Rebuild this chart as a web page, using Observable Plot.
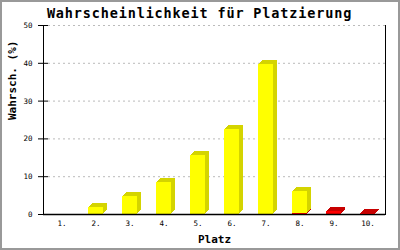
<!DOCTYPE html>
<html>
<head>
<meta charset="utf-8">
<script src="https://cdn.jsdelivr.net/npm/d3@7"></script>
<script src="https://cdn.jsdelivr.net/npm/@observablehq/plot@0.6"></script>
<style>
  html, body { margin: 0; padding: 0; background: #fff; }
  svg { display: block; outline: 2px solid #999; outline-offset: -2px; }
  g[aria-description="title"] text { letter-spacing: 0.85px; }
</style>
</head>
<body>
<div id="chart"></div>
<script>
const title = "Wahrscheinlichkeit für Platzierung";
const xLabel = "Platz";
const yLabel = "Wahrsch. (%)";
const cats = ["1.", "2.", "3.", "4.", "5.", "6.", "7.", "8.", "9.", "10."];
const yellowVals = [0, 1.9, 4.8, 8.5, 15.6, 22.5, 39.7, 5.9, 0, 0];
const redVals = [0, 0, 0, 0, 0, 0, 0, 0.25, 0.9, 0.3];
const yTicks = [0, 10, 20, 30, 40, 50];

const redRows = cats.map((c, i) => ({c, y1: 0, y2: redVals[i]})).filter(d => d.y2 > d.y1);
const yellowRows = cats.map((c, i) => ({c, y1: redVals[i], y2: redVals[i] + yellowVals[i]})).filter(d => d.y2 > d.y1);

const font = "DejaVu Sans Mono, Liberation Mono, monospace";
const depth = [4, 3, 2, 1];
const marks = [];

marks.push(Plot.ruleY(yTicks.filter(t => t > 0), {stroke: "#bbb", strokeDasharray: "2,3", insetLeft: 5}));

for (const k of depth) {
  marks.push(Plot.barY(redRows, {x: "c", y1: "y1", y2: "y2", fill: "#c80000", dx: k, dy: -k, shapeRendering: "crispEdges"}));
  marks.push(Plot.barY(yellowRows, {x: "c", y1: "y1", y2: "y2", fill: "#d4d400", dx: k, dy: -k, shapeRendering: "crispEdges"}));
}
marks.push(Plot.barY(redRows, {x: "c", y1: "y1", y2: "y2", fill: "#ff0000", shapeRendering: "crispEdges"}));
marks.push(Plot.barY(yellowRows, {x: "c", y1: "y1", y2: "y2", fill: "#ffff00", shapeRendering: "crispEdges"}));

marks.push(Plot.frame({anchor: "left", stroke: "#000"}));
marks.push(Plot.frame({anchor: "right", stroke: "#000"}));
marks.push(Plot.ruleY([0], {stroke: "#000", strokeWidth: 1.5}));
marks.push(Plot.ruleY(yTicks, {stroke: "#000", insetLeft: -5, insetRight: 337}));

marks.push(Plot.axisY({ticks: yTicks, tickSize: 0, tickPadding: 11, fontSize: 7.5, label: null, fill: "#000"}));
marks.push(Plot.text(cats, {x: d => d, frameAnchor: "bottom", lineAnchor: "middle", dy: 9, fontSize: 7.5, fill: "#000"}));

marks.push(Plot.text([title], {frameAnchor: "top", lineAnchor: "middle", dy: -12, dx: -15, fontSize: 13.5, fontWeight: "bold", fill: "#000", ariaDescription: "title"}));
marks.push(Plot.text([xLabel], {frameAnchor: "bottom", lineAnchor: "middle", dy: 25, fontSize: 11, fontWeight: "bold", fill: "#000"}));
marks.push(Plot.text([yLabel], {frameAnchor: "left", dx: -31, rotate: -90, fontSize: 11, fontWeight: "bold", fill: "#000"}));

const chart = Plot.plot({
  width: 400,
  height: 250,
  marginLeft: 43,
  marginRight: 15,
  marginTop: 25,
  marginBottom: 36,
  style: {fontFamily: font, background: "#fff", color: "#000"},
  x: {domain: cats, paddingInner: 0.56, paddingOuter: 0.28, axis: null},
  y: {domain: [0, 50], axis: null},
  marks
});
document.getElementById("chart").appendChild(chart);
</script>
</body>
</html>
